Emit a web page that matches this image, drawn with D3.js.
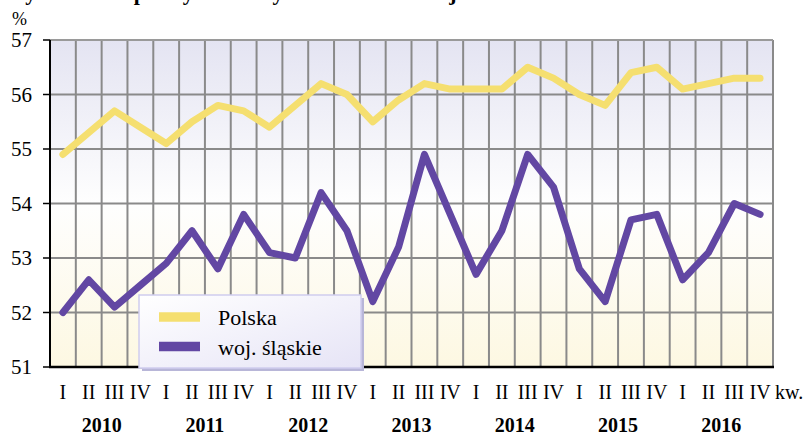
<!DOCTYPE html>
<html>
<head>
<meta charset="utf-8">
<script src="https://cdn.jsdelivr.net/npm/d3@7"></script>
<style>
body{margin:0;background:#fff;}
</style>
</head>
<body>
<div id="chart"></div>
<script>
// dane: kwartały 2010-2016
var years=['2010','2011','2012','2013','2014','2015','2016'];
var quarters=['I','II','III','IV'];
var polska=[54.9,55.3,55.7,55.4, 55.1,55.5,55.8,55.7, 55.4,55.8,56.2,56.0, 55.5,55.9,56.2,56.1,
            56.1,56.1,56.5,56.3, 56.0,55.8,56.4,56.5, 56.1,56.2,56.3,56.3];
var slaskie=[52.0,52.6,52.1,52.5, 52.9,53.5,52.8,53.8, 53.1,53.0,54.2,53.5, 52.2,53.2,54.9,53.8,
             52.7,53.5,54.9,54.3, 52.8,52.2,53.7,53.8, 52.6,53.1,54.0,53.8];
var yTicks=[51,52,53,54,55,56,57];

var W=804,H=437;
var svg=d3.select('#chart').append('svg').attr('width',W).attr('height',H)
  .attr('font-family','Liberation Serif, Times New Roman, Times, serif');

var labels=[];
years.forEach(function(y){quarters.forEach(function(q){labels.push(y+' '+q);});});

var x=d3.scaleBand().domain(labels).range([50,773]).padding(0);
var y=d3.scaleLinear().domain([51,57]).range([367,40]);

// tło z gradientem
var defs=svg.append('defs');
var g1=defs.append('linearGradient').attr('id','bg').attr('x1',0).attr('y1',0).attr('x2',0).attr('y2',1);
g1.append('stop').attr('offset','0%').attr('stop-color','#e4e4f2');
g1.append('stop').attr('offset','50%').attr('stop-color','#fefefe');
g1.append('stop').attr('offset','100%').attr('stop-color','#fdf8e2');
var g2=defs.append('linearGradient').attr('id','lg').attr('x1',0).attr('y1',0).attr('x2',1).attr('y2',1);
g2.append('stop').attr('offset','0%').attr('stop-color','#ffffff');
g2.append('stop').attr('offset','100%').attr('stop-color','#e6e4f6');

// tytuł (ucięty u góry, widać tylko dolne części liter)
svg.append('text').attr('x',4).attr('y',0).attr('font-size',22).attr('font-weight','bold')
  .text('Wykres 3. Współczynnik aktywności zawodowej ludności');

svg.append('rect').attr('x',50).attr('y',y(57)).attr('width',723).attr('height',y(51)-y(57)).attr('fill','url(#bg)');

// siatka
var grid=svg.append('g').attr('stroke','#8a8a8a').attr('stroke-width',2);
grid.selectAll('line.v').data(labels.slice(1).concat(['end'])).enter().append('line')
  .attr('x1',function(d){return d==='end'?773:x(d);}).attr('x2',function(d){return d==='end'?773:x(d);})
  .attr('y1',y(57)).attr('y2',y(51));
grid.selectAll('line.h').data(yTicks.slice(1)).enter().append('line')
  .attr('x1',50).attr('x2',773).attr('y1',function(d){return y(d);}).attr('y2',function(d){return y(d);})
  .attr('stroke',function(d){return d===57?'#9a9a9a':'#8a8a8a';});

// osie
svg.append('line').attr('x1',50).attr('x2',50).attr('y1',y(57)).attr('y2',y(51)).attr('stroke','#000').attr('stroke-width',2);
svg.append('line').attr('x1',49).attr('x2',774).attr('y1',y(51)).attr('y2',y(51)).attr('stroke','#000').attr('stroke-width',2.5);
svg.selectAll('line.tk').data(yTicks).enter().append('line')
  .attr('x1',43).attr('x2',50).attr('y1',function(d){return y(d);}).attr('y2',function(d){return y(d);})
  .attr('stroke','#000').attr('stroke-width',1.5);
svg.selectAll('text.yt').data(yTicks).enter().append('text')
  .attr('x',32).attr('y',function(d){return y(d)+7;}).attr('text-anchor','end').attr('font-size',21)
  .text(function(d){return d;});
svg.append('text').attr('x',12).attr('y',25).attr('font-size',18).text('%');

// etykiety kwartałów i lat
svg.selectAll('text.q').data(labels).enter().append('text')
  .attr('x',function(d){return x(d)+x.bandwidth()/2;}).attr('y',399)
  .attr('text-anchor','middle').attr('font-size',20)
  .text(function(d){return d.split(' ')[1];});
svg.append('text').attr('x',775).attr('y',399).attr('font-size',20).text('kw.');
svg.selectAll('text.yr').data(years).enter().append('text')
  .attr('x',function(d){return x(d+' II')+x.bandwidth();}).attr('y',432)
  .attr('text-anchor','middle').attr('font-size',20).attr('font-weight','bold')
  .text(function(d){return d;});

// linie
var line=d3.line().x(function(d,i){return x(labels[i])+x.bandwidth()/2;}).y(function(d){return y(d);});
svg.append('path').datum(polska).attr('d',line).attr('fill','none').attr('stroke','#f5df70')
  .attr('stroke-width',7).attr('stroke-linejoin','round').attr('stroke-linecap','round');
svg.append('path').datum(slaskie).attr('d',line).attr('fill','none').attr('stroke','#6247a3')
  .attr('stroke-width',7).attr('stroke-linejoin','round').attr('stroke-linecap','round');

// legenda
var leg=svg.append('g');
leg.append('rect').attr('x',142).attr('y',298).attr('width',222).attr('height',73).attr('fill','#b8b6d8');
leg.append('rect').attr('x',139).attr('y',295).attr('width',222).attr('height',73).attr('fill','url(#lg)')
  .attr('stroke','#cfcdee').attr('stroke-width',1.5);
var items=[['Polska','#f5df70'],['woj. śląskie','#6247a3']];
items.forEach(function(it,i){
  leg.append('line').attr('x1',159).attr('x2',200).attr('y1',317+i*29.5).attr('y2',317+i*29.5)
    .attr('stroke',it[1]).attr('stroke-width',9.5);
  leg.append('text').attr('x',218).attr('y',325+i*29.5).attr('font-size',22).text(it[0]);
});
</script>
</body>
</html>
